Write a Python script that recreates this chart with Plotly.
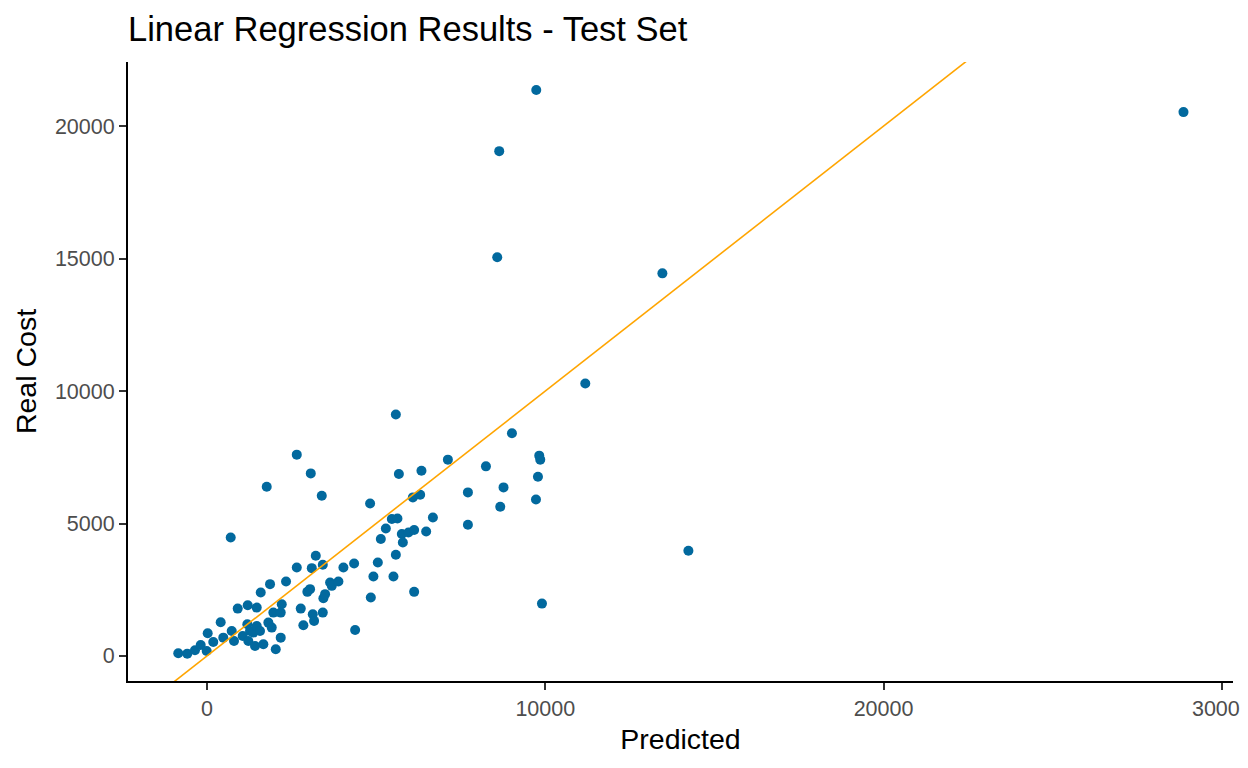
import pandas as pd
import plotly.express as px
import plotly.graph_objects as go

# valores (previsto x custo real)
predicted = [-849, -583, -355, -186, 21, -9, 186, 405, 482, 731,
             799, 908, 1056, 1204, 1470, 1192, 1272, 1222, 1370, 1470,
             1568, 1420, 1666, 1589, 1864, 1814, 1962, 1914, 2180, 2210,
             2180, 2033, 2337, 2654, 2772, 2849, 2967, 3047, 3098, 3127,
             3166, 3423, 3441, 3491, 3423, 3639, 3689, 3885, 4033, 4349,
             4379, 2654, 1766, 3068, 3393, 701, 4822, 5672, 6340, 6086,
             6302, 5464, 5630, 6678, 5287, 5760, 5956, 6124, 6479, 5139,
             5790, 3216, 5583, 5050, 4920, 5512, 5583, 9015, 9822, 9852,
             9784, 9725, 7121, 8246, 8766, 8669, 7713, 7713, 4843, 6124,
             9902, 9734, 8639, 8580, 13462, 11183, 14231, 28866]
real_cost = [102, 87, 215, 416, 858, 189, 529, 1274, 692, 945,
             567, 1788, 756, 1917, 1826, 1198, 945, 567, 881, 1134,
             945, 378, 442, 2393, 2711, 1259, 1637, 1070, 1637, 1955,
             692, 253, 2809, 3338, 1788, 1161, 2420, 2522, 3315, 1577,
             1323, 1637, 2181, 2333, 3440, 2771, 2647, 2809, 3338, 3490,
             983, 7599, 6389, 6892, 6049, 4473, 5758, 6869, 6994, 5985,
             6087, 5168, 5191, 5229, 4813, 4601, 4662, 4752, 4699, 4412,
             4284, 3781, 3819, 3527, 2998, 2998, 9112, 8405, 7561, 7410,
             6767, 5909, 7410, 7157, 6363, 5633, 6174, 4953, 2204, 2420,
             1977, 21361, 19055, 15047, 14442, 10284, 3970, 20529]

x_ticks = [0, 10000, 20000, 30000]
y_ticks = [0, 5000, 10000, 15000, 20000]

# linha de referencia y = x
intercept = 0
slope = 1

df = pd.DataFrame({'Predicted': predicted, 'Real Cost': real_cost})

x_range = [-2335, 30330]
y_range = [-945, 22420]

# a pagina tem 8px de margem no body, entao a figura fica 8px menor
W, H = 1240, 760

# -------------------------------------------------------------------------------------
# Grafico de dispersao
fig = px.scatter(df, x='Predicted', y='Real Cost',
                 title='Linear Regression Results - Test Set')
fig.update_traces(marker=dict(color='#02699E', size=10, line=dict(width=0)))

line_x = [x_range[0] - 1000, x_range[1] + 1000]
fig.add_trace(go.Scatter(
    x=line_x,
    y=[intercept + slope * v for v in line_x],
    mode='lines',
    line=dict(color='#FFA500', width=1.6),
    showlegend=False,
    hoverinfo='skip'
))

fig.update_layout(
    width=W, height=H,
    plot_bgcolor='white', paper_bgcolor='white',
    font=dict(family='Liberation Sans, Arial', color='black'),
    margin=dict(l=120, r=15, t=54, b=87),
    showlegend=False,
    title=dict(x=120 / W, xanchor='left', xref='container',
               y=1 - 21 / H, yanchor='middle',
               font=dict(size=34.5, color='black'))
)

axis_style = dict(
    showgrid=False, zeroline=False,
    showline=True, linecolor='black', linewidth=2,
    ticks='outside', ticklen=7, tickwidth=2, tickcolor='#333333',
    tickfont=dict(size=21.5, color='#4D4D4D'),
    tickformat='d', automargin=False, ticklabeloverflow='allow'
)
fig.update_xaxes(axis_style, range=x_range, tickvals=x_ticks,
                 title=dict(text='Predicted', font=dict(size=28.5), standoff=9))
fig.update_yaxes(axis_style, range=y_range, tickvals=y_ticks,
                 title=dict(text='Real Cost', font=dict(size=28.5), standoff=10))

fig.write_html("out.html")
